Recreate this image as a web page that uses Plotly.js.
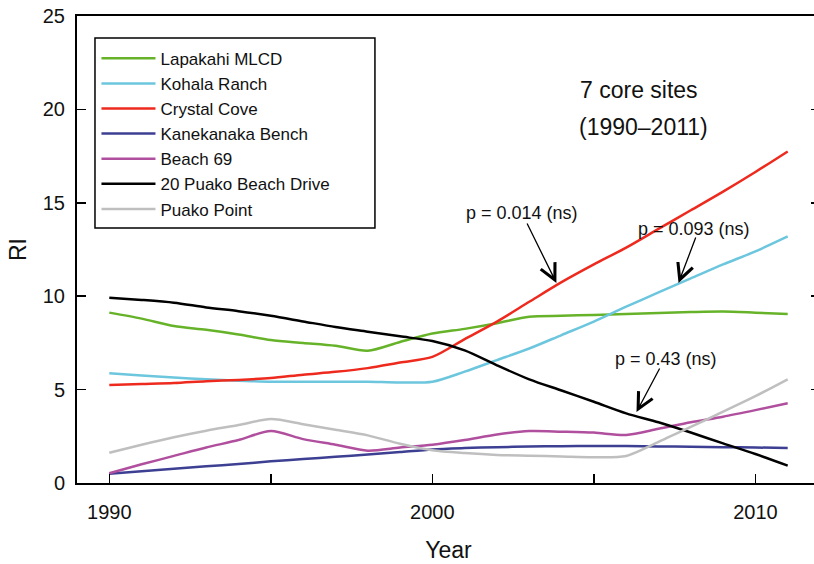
<!DOCTYPE html>
<html>
<head>
<meta charset="utf-8">
<script src="https://cdn.plot.ly/plotly-3.0.1.min.js"></script>
<style>
html, body { margin: 0; padding: 0; overflow: hidden; background: #fff; }
#chart { width: 822px; height: 564px; }
</style>
</head>
<body>
<div id="chart"></div>
<script>
// ---- Data ----
const years = [1990,1991,1992,1993,1994,1995,1996,1997,1998,1999,2000,2001,2002,2003,2004,2005,2006,2007,2008,2009,2010,2011];

const siteNames = ["Lapakahi MLCD","Kohala Ranch","Crystal Cove","Kanekanaka Bench","Beach 69","20 Puako Beach Drive","Puako Point"];

const lapakahi   = [9.12,8.8,8.4,8.2,7.95,7.65,7.5,7.35,7.08,7.55,8.0,8.25,8.55,8.9,8.95,9.0,9.05,9.1,9.15,9.18,9.12,9.05];
const kohala     = [5.87,5.75,5.65,5.55,5.48,5.42,5.42,5.42,5.42,5.38,5.42,5.96,6.58,7.2,7.92,8.64,9.44,10.2,10.95,11.7,12.4,13.2];
const crystal    = [5.25,5.3,5.35,5.45,5.52,5.62,5.8,5.95,6.15,6.45,6.75,7.7,8.64,9.7,10.75,11.7,12.6,13.6,14.6,15.6,16.65,17.75];
const kanekanaka = [0.5,0.63,0.76,0.89,1.02,1.16,1.28,1.4,1.52,1.66,1.8,1.87,1.92,1.95,1.97,1.98,1.98,1.96,1.94,1.92,1.9,1.87];
const beach69    = [0.52,1.0,1.45,1.9,2.3,2.78,2.35,2.05,1.73,1.9,2.05,2.3,2.6,2.78,2.75,2.7,2.57,2.9,3.25,3.55,3.9,4.27];
const puakoDrive = [9.92,9.8,9.65,9.4,9.2,8.95,8.65,8.35,8.1,7.85,7.6,7.1,6.3,5.55,4.95,4.35,3.73,3.25,2.7,2.12,1.55,0.93];
const puakoPoint = [1.62,2.05,2.45,2.8,3.1,3.42,3.15,2.85,2.55,2.1,1.75,1.6,1.5,1.46,1.42,1.38,1.45,2.2,3.0,3.82,4.65,5.55];

const xTickVals = [1990,1995,2000,2005,2010];
const xTickText = ["1990","","2000","","2010"];
const yTickVals = [0,5,10,15,20,25];

const pLabels = ["p = 0.014 (ns)","p = 0.093 (ns)","p = 0.43 (ns)"];
const subtitleLines = ["7 core sites","(1990\u20132011)"];

// ---- Styling ----
const series = [lapakahi,kohala,crystal,kanekanaka,beach69,puakoDrive,puakoPoint];
const colors = ["#66b32a","#6cc6de","#ee2a1e","#3d3f93","#b04f9e","#000000","#bfbfbf"];
const FONT = "Liberation Sans, Arial, Helvetica, sans-serif";

const traces = series.map((vals, i) => ({
  x: years,
  y: vals,
  type: "scatter",
  mode: "lines",
  name: siteNames[i],
  line: {color: colors[i], width: 2.5, shape: "spline", smoothing: 0.8}
}));

const annotations = [
  {xref:"x", yref:"y", x:2006.4, y:21.04, text:subtitleLines[0], showarrow:false,
   font:{family:FONT, size:23, color:"#111"}, xanchor:"center", yanchor:"middle"},
  {xref:"x", yref:"y", x:2006.55, y:19.06, text:subtitleLines[1], showarrow:false,
   font:{family:FONT, size:23, color:"#111"}, xanchor:"center", yanchor:"middle"},
  // p-value labels
  {xref:"x", yref:"y", x:2002.76, y:14.45, text:pLabels[0], showarrow:false,
   font:{family:FONT, size:18, color:"#111"}, xanchor:"center", yanchor:"middle"},
  {xref:"x", yref:"y", x:2008.11, y:13.6, text:pLabels[1], showarrow:false,
   font:{family:FONT, size:18, color:"#111"}, xanchor:"center", yanchor:"middle"},
  {xref:"x", yref:"y", x:2007.24, y:6.64, text:pLabels[2], showarrow:false,
   font:{family:FONT, size:18, color:"#111"}, xanchor:"center", yanchor:"middle"},
  // arrows
  {xref:"x", yref:"y", axref:"x", ayref:"y", x:2003.84, y:10.71, ax:2002.91, ay:13.97,
   text:"", showarrow:true, arrowhead:5, arrowsize:2.4, arrowwidth:1.3, arrowcolor:"#000", standoff:0},
  {xref:"x", yref:"y", axref:"x", ayref:"y", x:2007.62, y:10.71, ax:2008.17, ay:13.22,
   text:"", showarrow:true, arrowhead:5, arrowsize:2.4, arrowwidth:1.3, arrowcolor:"#000", standoff:0},
  {xref:"x", yref:"y", axref:"x", ayref:"y", x:2006.32, y:3.8, ax:2007.06, ay:6.21,
   text:"", showarrow:true, arrowhead:5, arrowsize:2.4, arrowwidth:1.3, arrowcolor:"#000", standoff:0}
];

// legend frame (wider than Plotly's auto-sized legend box, as in the reference)
const shapes = [
  {type:"rect", xref:"paper", yref:"paper", x0:0.0242, x1:0.401, y0:0.546, y1:0.953,
   line:{color:"#000", width:1.5}, fillcolor:"rgba(0,0,0,0)", layer:"above"}
];

const layout = {
  width: 822,
  height: 564,
  margin: {l: 77, r: 2, t: 16, b: 81, pad: 0},
  paper_bgcolor: "#fff",
  plot_bgcolor: "#fff",
  font: {family: FONT, size: 20, color: "#111"},
  showlegend: true,
  legend: {
    x: 0.0262, y: 0.947, xanchor: "left", yanchor: "top",
    bgcolor: "rgba(255,255,255,0)", borderwidth: 0,
    font: {family: FONT, size: 17, color: "#111"},
    itemwidth: 54, tracegroupgap: 0
  },
  xaxis: {
    range: [1989, 2012],
    tickvals: xTickVals, ticktext: xTickText,
    ticks: "inside", ticklen: 9, tickwidth: 1.5, tickcolor: "#000",
    showline: true, linewidth: 2, linecolor: "#000", mirror: true,
    showgrid: false, zeroline: false,
    tickfont: {family: FONT, size: 20, color: "#111"},
    ticklabelstandoff: 10,
    title: {text: "Year", font: {family: FONT, size: 23, color: "#111"}, standoff: 20}
  },
  yaxis: {
    range: [0, 25],
    tickvals: yTickVals,
    ticks: "inside", ticklen: 9, tickwidth: 1.5, tickcolor: "#000",
    showline: true, linewidth: 2, linecolor: "#000", mirror: "ticks",
    showgrid: false, zeroline: false,
    tickfont: {family: FONT, size: 20, color: "#111"},
    ticklabelstandoff: 6,
    title: {text: "RI", font: {family: FONT, size: 23, color: "#111"}, standoff: 10}
  },
  shapes: shapes,
  annotations: annotations
};

Plotly.newPlot("chart", traces, layout, {displayModeBar: false, staticPlot: true});
</script>
</body>
</html>
